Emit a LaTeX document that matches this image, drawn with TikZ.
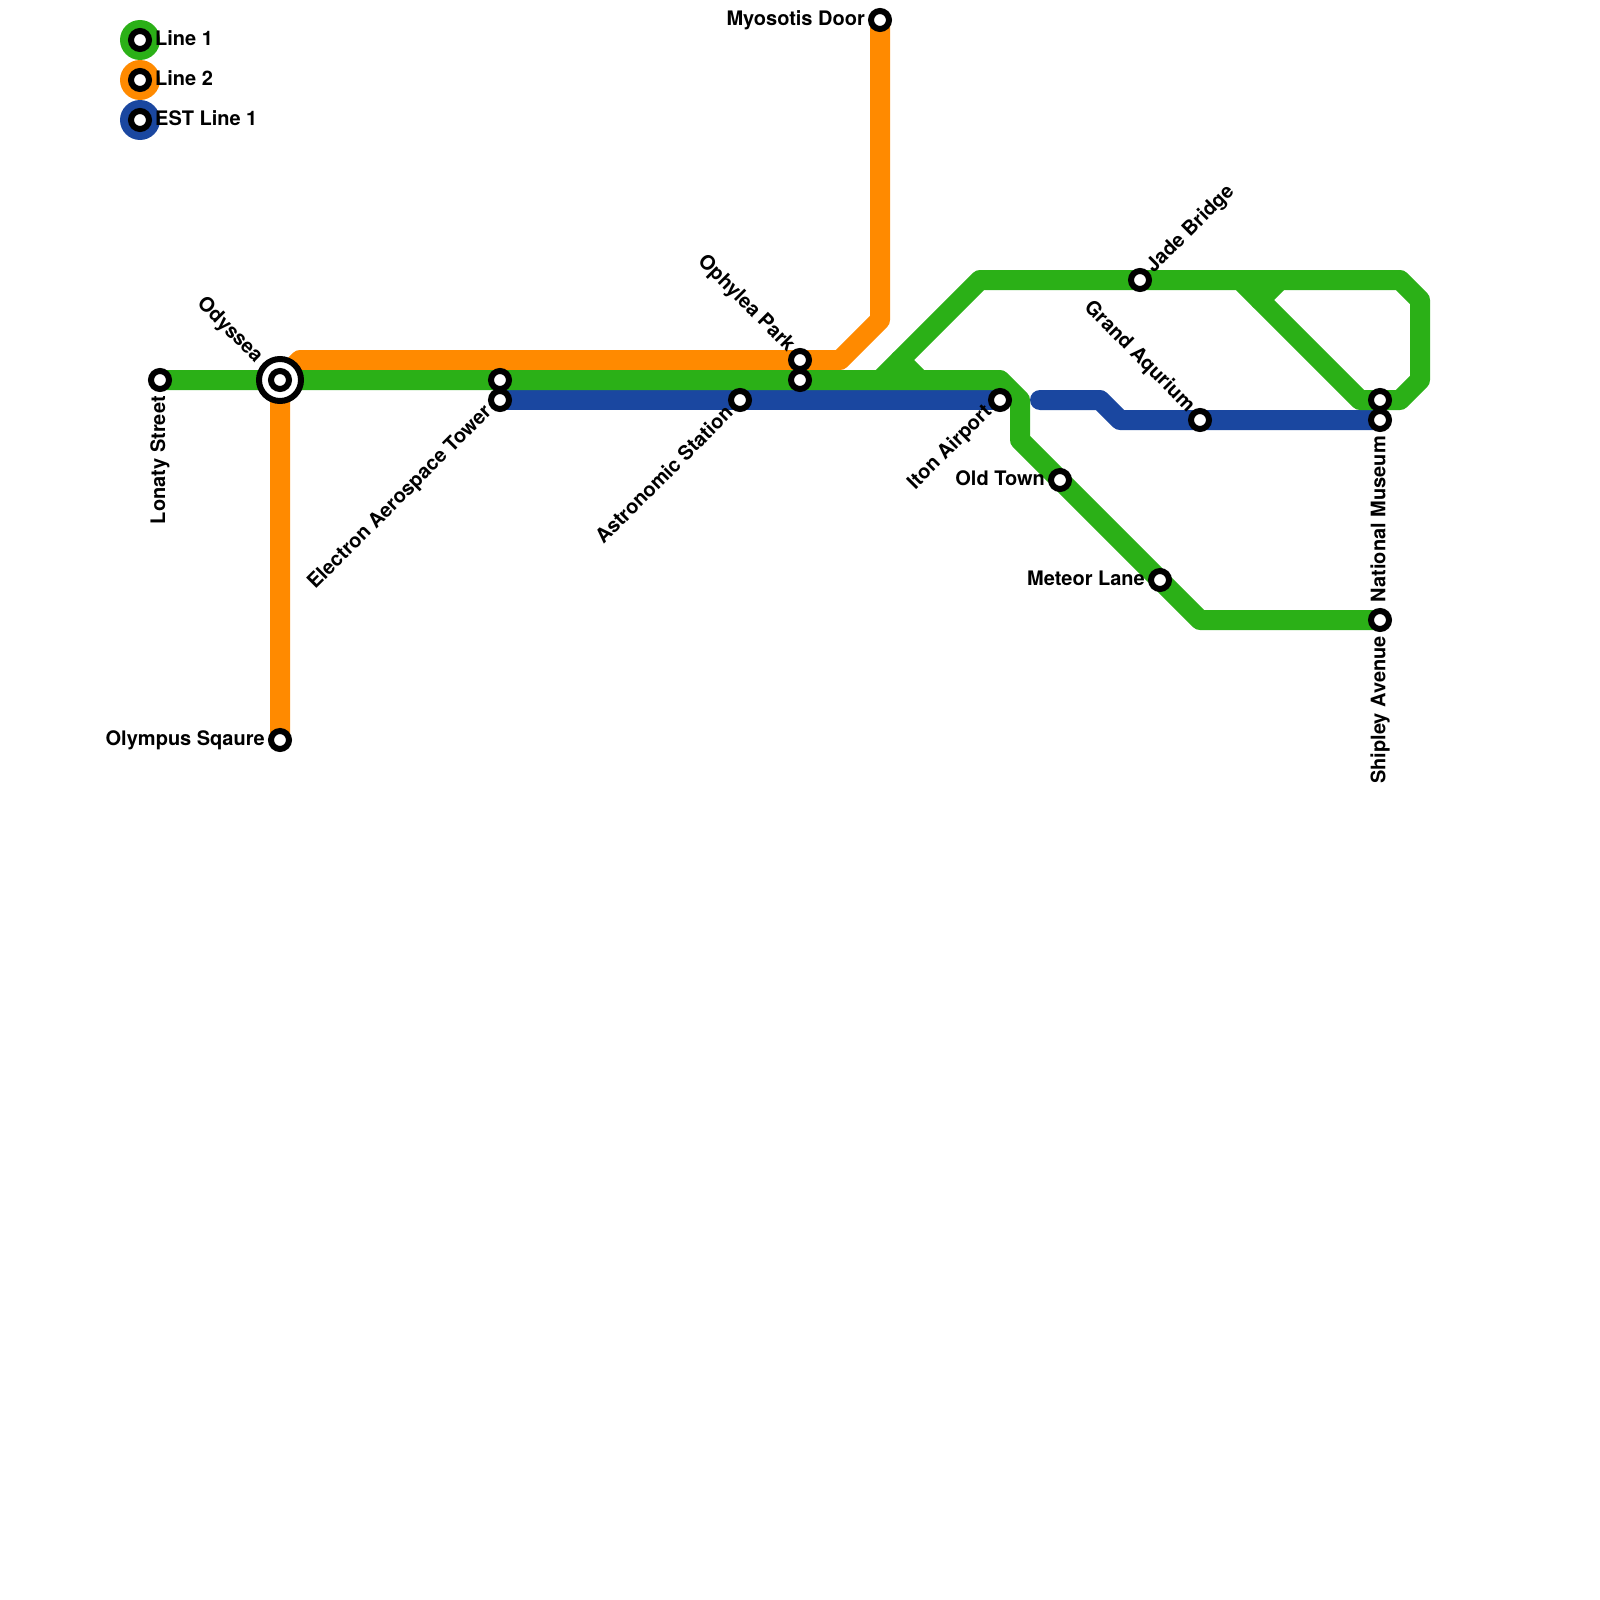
\documentclass[tikz,border=0pt]{standalone}
\usepackage{fontspec}
\setmainfont{TeX Gyre Heros}
\usepackage{tikz}
\usetikzlibrary{calc}
\definecolor{MetroGreen}{RGB}{ 43, 176, 23}
\definecolor{MetroOrange}{RGB}{ 255, 138, 0}
\definecolor{MetroBlue}{RGB}{ 26, 71, 160}
\begin{document}
\begin{tikzpicture}[x=1pt, y=-1pt]
      \tikzstyle{stn}=[draw, line width=6pt, fill=white, circle, inner sep=0pt, minimum size=18pt, outer sep=0pt];
      \tikzstyle{hub}=[draw, line width=6pt, fill=white, circle, inner sep=0pt, minimum size=42pt, outer sep=0pt];
      \tikzstyle{metro}=[line width=20pt, line cap=round, line join=round];
      \tikzstyle{disc}=[circle, inner sep=0pt, minimum size=40pt];
      \tikzstyle{lbl}=[font=\fontsize{20pt}{22pt}\selectfont\bfseries, inner sep=0pt];

      \pgfdeclarelayer{foreground}
      \pgfdeclarelayer{background}
      \pgfsetlayers{background,main,%
        foreground%
      }
      \useasboundingbox (0, 0) rectangle (1600, 1600);

      \begin{pgfonlayer}{foreground}
        \node[hub] (odysseaRing) at (280, 380) {};
        \node[stn] (odyssea) at (280, 380) {};
        \node[stn] (lonaty) at (160, 380) {};
        \node[stn] (olympus) at (280, 740) {};
        \node[stn] (electron) at (500, 380) {};
        \node[stn] (electronB) at (500, 400) {};
        \node[stn] (astronomic) at (740, 400) {};
        \node[stn] (ophylea) at (800, 360) {};
        \node[stn] (ophyleaB) at (800, 380) {};
        \node[stn] (myosotis) at (880, 20) {};
        \node[stn] (iton) at (1000, 400) {};
        \node[stn] (oldtown) at (1060, 480) {};
        \node[stn] (meteor) at (1160, 580) {};
        \node[stn] (shipley) at (1380, 620) {};
        \node[stn] (jade) at (1140, 280) {};
        \node[stn] (grand) at (1200, 420) {};
        \node[stn] (national) at (1380, 420) {};
        \node[stn] (nationalB) at (1380, 400) {};
        \node[stn] (keyA) at (140, 40) {};
        \node[stn] (keyB) at (140, 80) {};
        \node[stn] (keyC) at (140, 120) {};
      \end{pgfonlayer}

      \coordinate (o1) at (300, 360);
      \coordinate (o2) at (840, 360);
      \coordinate (o3) at (880, 320);
      \coordinate (g1) at (1000, 380);
      \coordinate (g2) at (1020, 400);
      \coordinate (g3) at (1020, 440);
      \coordinate (g4) at (1200, 620);
      \coordinate (g5) at (880, 380);
      \coordinate (g6) at (980, 280);
      \coordinate (g7) at (1400, 280);
      \coordinate (g8) at (1420, 300);
      \coordinate (g9) at (1420, 380);
      \coordinate (g10) at (1400, 400);
      \coordinate (g11) at (1360, 400);
      \coordinate (g12) at (1240, 280);
      \coordinate (s1) at (900, 360);
      \coordinate (s2) at (920, 380);
      \coordinate (s3) at (1280, 280);
      \coordinate (s4) at (1260, 300);
      \coordinate (b1) at (1040, 400);
      \coordinate (b2) at (1100, 400);
      \coordinate (b3) at (1120, 420);

      \begin{pgfonlayer}{background}
        \node[disc, fill=MetroGreen] (discA) at (keyA) {};
        \node[disc, fill=MetroOrange] (discB) at (keyB) {};
        \node[disc, fill=MetroBlue] (discC) at (keyC) {};

        \draw[MetroOrange, metro] (olympus.center) -- (odyssea.center) -- (o1) -- (o2) -- (o3) -- (myosotis.center);

        \draw[MetroBlue, metro] (electronB.center) -- (iton.center);
        \draw[MetroBlue, metro] (b1) -- (b2) -- (b3) -- (national.center);

        \draw[MetroGreen, metro] (lonaty.center) -- (g1) -- (g2) -- (g3) -- (g4) -- (shipley.center);
        \draw[MetroGreen, metro] (g5) -- (g6) -- (g7) -- (g8) -- (g9) -- (g10) -- (g11) -- (g12);
        \draw[MetroGreen, metro] (s1) -- (s2);
        \draw[MetroGreen, metro] (s3) -- (s4);
      \end{pgfonlayer}

      % labels
      \node[lbl, anchor=west] (keyAtext) at (155, 38) {Line 1};
      \node[lbl, anchor=west] (keyBtext) at (155, 78) {Line 2};
      \node[lbl, anchor=west] (keyCtext) at (155, 118) {EST Line 1};
      \node[lbl, anchor=east, rotate=90] (lonatyText) at (160, 396) {Lonaty Street};
      \node[lbl, anchor=east, rotate=-45] (odysseaText) at (259, 360) {Odyssea};
      \node[lbl, anchor=east] (olympusText) at (265, 740) {Olympus Sqaure};
      \node[lbl, anchor=east, rotate=45] (electronText) at (489, 409) {Electron Aerospace Tower};
      \node[lbl, anchor=east, rotate=45] (astronomicText) at (729, 409) {Astronomic Station};
      \node[lbl, anchor=east, rotate=-45] (ophyleaText) at (791, 349) {Ophylea Park};
      \node[lbl, anchor=east] (myosotisText) at (865, 20) {Myosotis Door};
      \node[lbl, anchor=east, rotate=45] (itonText) at (989, 409) {Iton Airport};
      \node[lbl, anchor=east] (oldtownText) at (1045, 478) {Old Town};
      \node[lbl, anchor=east] (meteorText) at (1145, 578) {Meteor Lane};
      \node[lbl, anchor=west, rotate=45] (jadeText) at (1150, 270) {Jade Bridge};
      \node[lbl, anchor=east, rotate=-45] (grandText) at (1191, 409) {Grand Aqurium};
      \node[lbl, anchor=east, rotate=90] (nationalText) at (1378, 436) {National Museum};
      \node[lbl, anchor=east, rotate=90] (shipleyText) at (1380, 636) {Shipley Avenue};
    \end{tikzpicture}
\end{document}
